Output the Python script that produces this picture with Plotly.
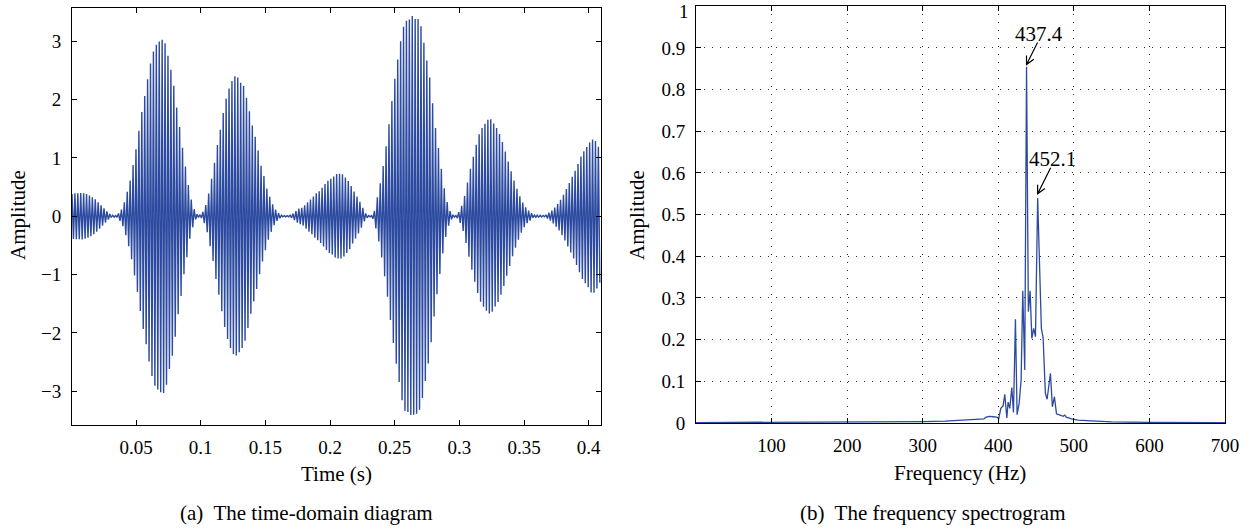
import numpy as np
import plotly.graph_objects as go

# ---------------- data ----------------
# (a) time-domain: envelope (peak amplitude of each visible stroke) vs time (s)
env_t = [0.0005, 0.0018, 0.0083, 0.0121, 0.0160, 0.0186, 0.0211, 0.0237, 0.0263, 0.0289, 0.0310, 0.0350,
         0.0366, 0.0392, 0.0413, 0.0436, 0.0459, 0.0482, 0.0505, 0.0528, 0.0552, 0.0575, 0.0598, 0.0621,
         0.0644, 0.0668, 0.0691, 0.0714, 0.0734, 0.0755, 0.0778, 0.0799, 0.0822, 0.0845, 0.0868, 0.0892,
         0.0912, 0.0935, 0.0959, 0.0979,
         0.1005, 0.1031, 0.1054, 0.1077, 0.1100, 0.1123, 0.1147, 0.1170, 0.1193, 0.1216, 0.1239, 0.1263,
         0.1286, 0.1309, 0.1332, 0.1350, 0.1371, 0.1396, 0.1420, 0.1443, 0.1466, 0.1489, 0.1512, 0.1536,
         0.1559, 0.1582, 0.1603, 0.1628, 0.1680,
         0.1706, 0.1757, 0.1788, 0.1814, 0.1840, 0.1865, 0.1891, 0.1917, 0.1943, 0.1968, 0.1994, 0.2020,
         0.2046, 0.2071, 0.2097, 0.2123, 0.2149, 0.2174, 0.2200, 0.2226, 0.2252, 0.2270, 0.2296, 0.2325,
         0.2345, 0.2360, 0.2381, 0.2406, 0.2429, 0.2450, 0.2471, 0.2494, 0.2514, 0.2535, 0.2558, 0.2581,
         0.2610, 0.2633, 0.2656, 0.2679, 0.2703, 0.2726, 0.2749, 0.2772, 0.2793, 0.2813, 0.2836, 0.2860,
         0.2880, 0.2903, 0.2927, 0.2952, 0.2978,
         0.3004, 0.3024, 0.3043, 0.3063, 0.3086, 0.3110, 0.3133, 0.3156, 0.3179, 0.3202, 0.3225, 0.3249,
         0.3272, 0.3295, 0.3318, 0.3341, 0.3365, 0.3388, 0.3411, 0.3434, 0.3457, 0.3481, 0.3504, 0.3527,
         0.3550, 0.3571, 0.3661,
         0.3687, 0.3712, 0.3738, 0.3764, 0.3790, 0.3815, 0.3841, 0.3867, 0.3893, 0.3918, 0.3944, 0.3970,
         0.3996, 0.4021, 0.4047, 0.4073, 0.4095]
env_a = [0.38, 0.39, 0.40, 0.38, 0.33, 0.29, 0.23, 0.17, 0.11, 0.05, 0.02, 0.01,
         0.05, 0.13, 0.26, 0.45, 0.65, 0.94, 1.21, 1.55, 1.89, 2.15, 2.46, 2.72,
         2.90, 2.97, 3.02, 3.03, 2.91, 2.65, 2.43, 2.14, 1.73, 1.42, 1.03, 0.72,
         0.42, 0.21, 0.06, 0.02,
         0.03, 0.13, 0.30, 0.56, 0.82, 1.15, 1.42, 1.72, 1.99, 2.17, 2.31, 2.40,
         2.38, 2.29, 2.23, 2.07, 1.86, 1.58, 1.38, 1.14, 0.87, 0.69, 0.47, 0.32,
         0.19, 0.10, 0.05, 0.01, 0.01,
         0.03, 0.13, 0.15, 0.21, 0.27, 0.32, 0.39, 0.43, 0.50, 0.57, 0.63, 0.66,
         0.72, 0.73, 0.72, 0.65, 0.58, 0.47, 0.37, 0.27, 0.15, 0.06, 0.01, 0.01,
         0.10, 0.27, 0.47, 0.79, 1.13, 1.47, 1.85, 2.25, 2.56, 2.85, 3.17, 3.35,
         3.36, 3.44, 3.38, 3.39, 3.26, 2.97, 2.66, 2.36, 1.94, 1.55, 1.20, 0.82,
         0.51, 0.26, 0.09, 0.02, 0.01,
         0.10, 0.21, 0.37, 0.58, 0.82, 1.04, 1.25, 1.43, 1.53, 1.60, 1.67, 1.66,
         1.56, 1.49, 1.37, 1.22, 1.03, 0.86, 0.69, 0.54, 0.40, 0.27, 0.18, 0.11,
         0.07, 0.02, 0.01,
         0.05, 0.09, 0.15, 0.22, 0.31, 0.41, 0.53, 0.65, 0.77, 0.90, 1.05, 1.14,
         1.22, 1.32, 1.31, 1.20, 1.10]

# (b) spectrum: frequency (Hz) and amplitude
spec_f = [0, 50, 100, 150, 200, 250, 300, 330, 350, 365, 375, 381, 384, 388, 393, 398,
          400.7, 403.3, 406.4, 408.6, 411.3, 413.0, 415.2, 417.9, 420.1, 422.7, 424.9, 427.6,
          430.2, 432.4, 435.0, 437.4, 439.8, 442.1, 444.4, 446.8, 449.2, 452.1, 457.0, 459.3,
          462.3, 464.6, 469.0, 471.6, 474.3, 477.0, 480.0, 483.5, 486.0, 488.0, 490.0, 497.0,
          505.6, 523.0, 550.0, 600.0, 650.0, 700.0]
spec_a = [0.001, 0.0012, 0.0015, 0.002, 0.0022, 0.0027, 0.0035, 0.0045, 0.006, 0.008, 0.009, 0.010,
          0.014, 0.016, 0.015, 0.014,
          0.011, 0.035, 0.041, 0.069, 0.012, 0.050, 0.035, 0.085, 0.025, 0.249, 0.020, 0.047,
          0.103, 0.317, 0.127, 0.855, 0.267, 0.317, 0.203, 0.227, 0.207, 0.540, 0.227, 0.205,
          0.071, 0.057, 0.119, 0.039, 0.063, 0.022, 0.020, 0.018, 0.016, 0.019, 0.014, 0.010,
          0.007, 0.005, 0.0025, 0.0015, 0.001, 0.0008]

peak_f = [437.4, 452.1]
peak_a = [0.86, 0.55]
peak_labels = ["437.4", "452.1"]

time_ticks = [0.05, 0.1, 0.15, 0.2, 0.25, 0.3, 0.35, 0.4]
time_ticktext = ["0.05", "0.1", "0.15", "0.2", "0.25", "0.3", "0.35", "0.4"]
amp_ticks = [-3, -2, -1, 0, 1, 2, 3]
freq_ticks = [100, 200, 300, 400, 500, 600, 700]
spec_ticks = [0, 0.1, 0.2, 0.3, 0.4, 0.5, 0.6, 0.7, 0.8, 0.9, 1]
spec_ticktext = ["0", "0.1", "0.2", "0.3", "0.4", "0.5", "0.6", "0.7", "0.8", "0.9", "1"]

# ---------------- build the oscillating trace ----------------
fc = sum(peak_f) / len(peak_f)          # carrier between the two spectral peaks
t0, t1 = env_t[0], env_t[-1]
n = int((t1 - t0) * 2 * fc) + 1
t = t0 + np.arange(n) / (2 * fc)
sig = np.interp(t, env_t, env_a) * np.where(np.arange(n) % 2 == 0, 1.0, -1.0)

# ---------------- figure ----------------
W, H = 1252, 530
BLUE = "#2C4BA0"
FONT = "Liberation Serif"

def px(x):
    return x / W

def py(y):
    return 1 - y / H

fig = go.Figure()
fig.add_trace(go.Scatter(x=t, y=sig, mode="lines", line=dict(color=BLUE, width=1.4),
                         xaxis="x", yaxis="y", hoverinfo="skip"))
fig.add_trace(go.Scatter(x=spec_f, y=spec_a, mode="lines", line=dict(color=BLUE, width=1.3),
                         xaxis="x2", yaxis="y2"))

axis_common = dict(showline=True, linecolor="black", linewidth=1, mirror="ticks",
                   ticks="inside", ticklen=5, tickcolor="black", tickwidth=1,
                   zeroline=False, automargin=False,
                   tickfont=dict(family=FONT, size=19, color="black"))

grid = dict(showgrid=True, gridcolor="#333333", gridwidth=1, griddash="1px,7px")

fig.update_layout(
    width=W, height=H, margin=dict(l=0, r=0, t=0, b=0, autoexpand=False),
    paper_bgcolor="white", plot_bgcolor="white", showlegend=False,
    xaxis=dict(domain=[px(72), px(601)], range=[0.0005, 0.4095], tickvals=time_ticks,
               ticktext=time_ticktext, showgrid=False, ticklabelstandoff=5, **axis_common),
    yaxis=dict(domain=[py(425), py(8)], range=[-3.58, 3.57], tickvals=amp_ticks,
               showgrid=False, ticklabelstandoff=6, **axis_common),
    xaxis2=dict(domain=[px(696), px(1225)], range=[0, 700], tickvals=freq_ticks,
                anchor="y2", ticklabelstandoff=5, **grid, **axis_common),
    yaxis2=dict(domain=[py(423), py(6)], range=[0, 1.0005], tickvals=spec_ticks, ticktext=spec_ticktext,
                anchor="x2", ticklabelstandoff=6, **grid, **axis_common),
)

tfont = dict(family=FONT, size=21, color="black")
annos = [
    dict(text="Time (s)", x=px(336), y=py(474)),
    dict(text="Frequency (Hz)", x=px(960), y=py(473)),
    dict(text="Amplitude", x=px(18), y=py(215), textangle=-90),
    dict(text="Amplitude", x=px(637), y=py(215), textangle=-90),
    dict(text="(a)  The time-domain diagram", x=px(306), y=py(513)),
    dict(text="(b)  The frequency spectrogram", x=px(933), y=py(513)),
]
for a in annos:
    fig.add_annotation(xref="paper", yref="paper", showarrow=False, font=tfont,
                       xanchor="center", yanchor="middle", **a)

# top tick label "1" of the spectrum axis (kept fully inside the page)
fig.add_annotation(xref="paper", yref="paper", x=px(690), y=1.0, text=spec_ticktext[-1],
                   showarrow=False, xanchor="right", yanchor="top", borderpad=0,
                   font=dict(family=FONT, size=19, color="black"))

# peak labels with open V arrows
label_shift = [(12, 31), (15, 35)]
tails = [(11, 22), (13, 26)]
for f, a, lab, (sx, sy), (tx, ty) in zip(peak_f, peak_a, peak_labels, label_shift, tails):
    fig.add_annotation(x=f, y=a, xref="x2", yref="y2", text=lab, showarrow=False,
                       xshift=sx, yshift=sy, font=tfont)
    L = (tx ** 2 + ty ** 2) ** 0.5
    ux, uy = tx / L, ty / L
    c, s = np.cos(np.radians(27)), np.sin(np.radians(27))
    b1 = (9 * (ux * c - uy * s), 9 * (ux * s + uy * c))
    b2 = (9 * (ux * c + uy * s), 9 * (-ux * s + uy * c))
    path = (f"M {tx},{ty} L 0,0 M {b1[0]:.2f},{b1[1]:.2f} L 0,0 L {b2[0]:.2f},{b2[1]:.2f}")
    fig.add_shape(type="path", xref="x2", yref="y2", xsizemode="pixel", ysizemode="pixel",
                  xanchor=f, yanchor=a, path=path, line=dict(color="black", width=1.2))

fig.write_html("out.html", config={"displayModeBar": False},
               post_script="document.body.style.margin='0';document.body.style.overflow='hidden';")
